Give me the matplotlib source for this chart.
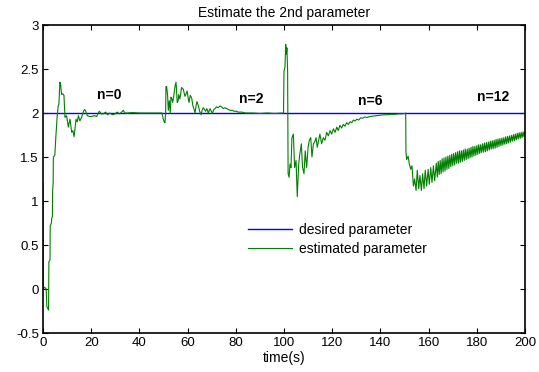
import numpy as np
import matplotlib
matplotlib.use("Agg")
import matplotlib.pyplot as plt

plt.rcParams['font.family'] = ['Liberation Sans', 'DejaVu Sans']

# Desired (true) value of the 2nd parameter
desired_t = [0, 200]
desired_val = [2.0, 2.0]

# Estimated parameter, n = 0 stage (0-50 s)
seg0_t = [0, 0.05, 0.7, 1.3, 1.6, 2.3, 2.45, 2.9, 3.0, 3.5, 3.6, 3.9, 4.0, 4.2, 4.3, 4.9,
          5.4, 5.9, 6.3, 6.6, 7.0, 7.3, 7.7, 8.2, 8.7, 9.1, 9.8, 10.5, 11.2, 11.9, 12.4,
          12.9, 13.7, 14.2, 14.7, 15.3, 16.0, 16.7, 17.2, 17.6, 18.4, 19.3, 20.2, 21.2,
          22.3, 22.9, 23.4, 24.2, 25.0, 26.0, 26.8, 27.8, 28.8, 29.9, 30.8, 31.7, 32.6,
          33.3, 34.0, 35.0, 37.0, 40.0, 43.0, 46.0, 49.3]
seg0_val = [1.2, 0.0, 0.02, 0.0, -0.2, -0.24, 0.31, 0.33, 0.72, 0.75, 0.8, 0.82, 1.12, 1.2,
            1.5, 1.52, 1.76, 1.97, 2.08, 2.1, 2.35, 2.33, 2.21, 2.22, 2.2, 1.95, 1.97, 1.84,
            1.93, 1.78, 1.8, 1.73, 1.93, 1.9, 1.97, 1.91, 1.95, 2.01, 2.04, 2.03, 1.97, 1.96,
            1.96, 1.97, 1.96, 2.0, 2.02, 1.99, 1.99, 2.01, 1.98, 2.0, 1.98, 1.99, 2.01, 1.99,
            2.01, 2.03, 2.0, 2.0, 2.005, 2.0, 2.0, 2.0, 2.0]

# n = 2 stage (50-100 s)
seg2_t = [49.6, 49.9, 50.3, 50.6, 50.9, 51.0, 51.3, 51.7, 52.0, 52.4, 52.8, 53.1, 53.5,
          53.8, 54.3, 54.8, 55.2, 55.7, 56.1, 56.3, 56.8, 57.5, 58.2, 58.9, 59.4, 59.8,
          60.3, 60.6, 61.1, 61.7, 62.2, 62.5, 63.1, 63.6, 63.9, 64.5, 65.0, 65.6, 66.0,
          66.5, 67.0, 67.5, 68.0, 68.6, 69.3, 69.8, 70.3, 70.9, 71.4, 72.0, 72.7, 73.4,
          74.1, 74.8, 75.5, 76.2, 77.0, 77.7, 78.5, 79.3, 80.2, 81.0, 82.5, 84.0, 87.0,
          90.0, 93.0, 96.0, 99.6]
seg2_val = [1.97, 1.93, 1.9, 1.89, 2.0, 2.30, 2.30, 2.2, 2.03, 2.14, 2.0, 2.18, 2.16,
            2.12, 2.2, 2.31, 2.35, 2.12, 2.14, 2.21, 2.16, 2.29, 2.27, 2.19, 2.22, 2.25,
            2.16, 2.12, 2.2, 2.17, 2.08, 2.06, 2.0, 2.1, 2.13, 2.08, 2.02, 1.98, 2.03,
            2.06, 2.04, 2.02, 2.05, 2.0, 2.05, 2.02, 2.0, 2.04, 2.05, 2.07, 2.06, 2.08,
            2.07, 2.05, 2.06, 2.05, 2.04, 2.03, 2.03, 2.02, 2.02, 2.01, 2.01, 2.0, 2.0,
            1.995, 2.0, 1.995, 2.0]

# n = 6 stage (100-150 s)
seg6_t = [99.8, 100.0, 100.4, 100.7, 101.0, 101.2, 101.5, 101.7, 102.1, 102.5, 102.9,
          103.3, 103.9, 104.4, 105.0, 105.5, 106.1, 106.6, 107.2, 107.7, 108.3, 108.8,
          109.4, 110.0, 110.5, 111.1, 111.6, 112.2, 112.7, 113.3, 113.8, 114.4, 114.9,
          115.6, 116.3, 117.0, 117.7, 118.4, 119.1, 119.8, 120.5, 121.2, 121.9, 122.5,
          123.2, 123.9, 124.6, 125.3, 126.0, 126.7, 127.4, 128.1, 128.8, 129.5, 130.2,
          131.0, 131.8, 132.6, 133.5, 134.5, 135.7, 137.0, 138.5, 140.0, 141.5, 143.0,
          144.5, 146.0, 147.5, 149.0, 150.3]
seg6_val = [2.0, 2.48, 2.52, 2.78, 2.67, 2.74, 2.48, 1.31, 1.27, 1.42, 1.38,
            1.72, 1.76, 1.38, 1.46, 1.05, 1.42, 1.54, 1.65, 1.38, 1.31, 1.57,
            1.38, 1.61, 1.69, 1.72, 1.5, 1.65, 1.67, 1.72, 1.61, 1.69, 1.76,
            1.65, 1.72, 1.69, 1.78, 1.74, 1.80, 1.76, 1.82, 1.78, 1.84, 1.80,
            1.86, 1.83, 1.87, 1.85, 1.89, 1.87, 1.90, 1.89, 1.92, 1.91, 1.93,
            1.92, 1.945, 1.94, 1.955, 1.95, 1.96, 1.965, 1.97, 1.975, 1.98, 1.98,
            1.985, 1.985, 1.99, 1.99, 1.995]

# n = 12 stage (150-200 s)
seg12_t = [150.5, 150.6, 150.9, 151.5, 152.0, 152.6, 153.1, 153.7, 154.2, 154.8, 155.3,
           155.9, 156.4, 157.0, 157.5, 158.1, 158.6, 159.2, 159.8, 160.3, 160.9, 161.4,
           162.0, 162.5,
           163.2, 163.6, 164.0, 164.4, 164.8, 165.2, 165.6, 166.0, 166.4, 166.8, 167.2,
           167.6, 168.0, 168.4, 168.8, 169.2, 169.6, 170.0, 170.4, 170.8, 171.2, 171.6,
           172.0, 172.4, 172.8, 173.2, 173.6, 174.0, 174.4, 174.8, 175.2, 175.6, 176.0,
           176.4, 176.8, 177.2, 177.6, 178.0, 178.4, 178.8, 179.2, 179.6, 180.0, 180.4,
           180.8, 181.2, 181.6, 182.0, 182.4, 182.8, 183.2, 183.6, 184.0, 184.4, 184.8,
           185.2, 185.6, 186.0, 186.4, 186.8, 187.2, 187.6, 188.0, 188.4, 188.8, 189.2,
           189.6, 190.0, 190.4, 190.8, 191.2, 191.6, 192.0, 192.4, 192.8, 193.2, 193.6,
           194.0, 194.4, 194.8, 195.2, 195.6, 196.0, 196.4, 196.8, 197.2, 197.6, 198.0,
           198.4, 198.8, 199.2, 199.6, 200.0]
seg12_val = [2.0, 1.56, 1.47, 1.51, 1.42, 1.36, 1.40, 1.17, 1.25, 1.12, 1.35,
             1.14, 1.29, 1.12, 1.31, 1.14, 1.35, 1.17, 1.36, 1.19, 1.38, 1.21,
             1.40, 1.23,
             1.43, 1.27, 1.45, 1.30, 1.46, 1.31, 1.48, 1.33, 1.49, 1.34, 1.50,
             1.36, 1.51, 1.37, 1.52, 1.39, 1.53, 1.40, 1.54, 1.41, 1.55, 1.43,
             1.56, 1.43, 1.57, 1.44, 1.57, 1.45, 1.58, 1.46, 1.59, 1.47, 1.59,
             1.48, 1.60, 1.49, 1.61, 1.50, 1.62, 1.51, 1.62, 1.52, 1.63, 1.53,
             1.64, 1.54, 1.64, 1.55, 1.65, 1.555, 1.66, 1.56, 1.665, 1.57, 1.67,
             1.58, 1.68, 1.59, 1.685, 1.595, 1.69, 1.60, 1.70, 1.61, 1.705, 1.62,
             1.71, 1.63, 1.715, 1.635, 1.72, 1.645, 1.73, 1.65, 1.735, 1.66, 1.74,
             1.67, 1.745, 1.68, 1.755, 1.685, 1.76, 1.695, 1.77, 1.705, 1.775, 1.71,
             1.78, 1.72, 1.785, 1.73, 1.79]

stage_labels = ["n=0", "n=2", "n=6", "n=12"]
stage_label_x = [22.3, 81.5, 130.6, 180.0]
stage_label_y = [2.21, 2.155, 2.14, 2.18]

est_t = np.concatenate([seg0_t, seg2_t, seg6_t, seg12_t])
est_val = np.concatenate([seg0_val, seg2_val, seg6_val, seg12_val])

fig = plt.figure(figsize=(5.39, 3.72), dpi=100)
ax = fig.add_axes([43 / 539, 1 - 333 / 372, 482 / 539, 308 / 372])

ax.plot(desired_t, desired_val, color=(0, 0, 1), lw=1.0, label="desired parameter")
ax.plot(est_t, est_val, color=(0, 0.5, 0), lw=0.8, label="estimated parameter")

for lab, lx, ly in zip(stage_labels, stage_label_x, stage_label_y):
    ax.text(lx, ly, lab, fontsize=10, fontweight='bold', ha='left', va='center')

ax.set_xlim(0, 200)
ax.set_ylim(-0.5, 3)
ax.set_xticks(np.arange(0, 201, 20))
ax.set_yticks([-0.5, 0, 0.5, 1, 1.5, 2, 2.5, 3])
ax.set_yticklabels(["-0.5", "0", "0.5", "1", "1.5", "2", "2.5", "3"])
ax.tick_params(direction='in', length=3.5, width=0.8, top=True, right=True,
               labelsize=9.5, pad=3)
for sp in ax.spines.values():
    sp.set_linewidth(1.2)

ax.set_title("Estimate the 2nd parameter", fontsize=10, pad=6)
ax.set_xlabel("time(s)", fontsize=10, labelpad=1)

ax.legend(loc='upper left', bbox_to_anchor=((248 - 43) / 482, (333 - 223) / 308),
          frameon=False, fontsize=10, handlelength=3.2, handletextpad=0.45,
          labelspacing=0.33, borderpad=0, borderaxespad=0)

fig.savefig("out.png", dpi=100)
